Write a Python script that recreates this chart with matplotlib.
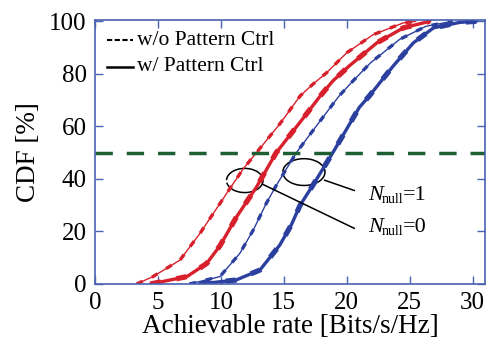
import numpy as np
import matplotlib
matplotlib.use("Agg")
import matplotlib.pyplot as plt
from matplotlib.patches import Arc
from matplotlib.transforms import offset_copy

# CDF curves: (rate [Bits/s/Hz], CDF [%])
# N_null = 0 (red)
red_wo_x = [3.3, 4.6, 6.75, 8.33, 9.92, 10.7, 11.77, 12.83, 14.68, 16.3, 17.3, 18.4, 20.0, 22.1, 24.5, 25.5]
red_wo_y = [0, 2.8, 9.1, 19.2, 30.6, 36.2, 43.8, 50, 60.9, 71.6, 76.0, 80.4, 88.0, 94.9, 99.4, 100]
red_w_x = [4.4, 7.3, 8.87, 9.92, 11.24, 12.83, 14.4, 16.8, 17.9, 18.9, 20.2, 22.4, 24.5, 26.6]
red_w_y = [0, 2.8, 7.8, 14.5, 25.5, 36.9, 50, 64.7, 71.6, 77.3, 83.0, 91.8, 97.5, 100]
# N_null = 1 (blue)
blue_wo_x = [7.5, 9.92, 11.5, 12.57, 13.6, 14.4, 16.0, 18.1, 19.4, 20.5, 21.9, 24.2, 26.3, 28.4]
blue_wo_y = [0, 2.8, 11.6, 20.5, 30.6, 37.5, 50, 63.4, 71.6, 77.3, 84.2, 93.1, 98.1, 100]
blue_w_x = [8.3, 11.2, 13.1, 14.15, 14.68, 15.6, 16.3, 17.3, 18.9, 21.0, 21.8, 23.7, 25.3, 26.9, 29.0, 30.3]
blue_w_y = [0, 1.5, 5.3, 11.6, 14.8, 22.5, 30.0, 37.5, 50, 67.2, 71.6, 83.0, 91.8, 97.5, 99.6, 100]

median_level = 50
legend_labels = ["w/o Pattern Ctrl", "w/ Pattern Ctrl"]

RED = "#d8202c"
BLUE = "#2b3f9e"
GREEN = "#1d5e33"
AXC = "#4a62b0"

plt.rcParams["font.family"] = ["Liberation Serif", "DejaVu Serif"]
plt.rcParams["mathtext.fontset"] = "stix"

fig = plt.figure(figsize=(4.95, 3.47), dpi=100)
ax = fig.add_axes([0.192, 0.1816, 0.788, 0.7608])

def bumpy(x, y, color, lw):
    # solid line with a dashed overlay, like the overlapping curves in the figure
    ax.plot(x, y, color=color, lw=lw, solid_capstyle="round")
    ax.plot(x, y, color=color, lw=lw + 1.4, ls=(0, (2.0, 3.0)))

bumpy(red_wo_x, red_wo_y, RED, 1.0)
bumpy(red_w_x, red_w_y, RED, 2.4)
bumpy(blue_wo_x, blue_wo_y, BLUE, 1.0)
bumpy(blue_w_x, blue_w_y, BLUE, 2.4)

ax.axhline(median_level, color=GREEN, lw=2.5, ls=(0, (5, 4)))

# legend drawn by hand (black samples)
ax.plot([0.031, 0.097], [0.924, 0.924], transform=ax.transAxes, color="black", lw=1.5, ls=(0, (2.5, 1.2)))
ax.plot([0.031, 0.097], [0.822, 0.822], transform=ax.transAxes, color="black", lw=1.8)
ax.text(0.108, 0.924, legend_labels[0], transform=ax.transAxes, fontsize=15.5, va="center", ha="left")
ax.text(0.108, 0.822, legend_labels[1], transform=ax.transAxes, fontsize=15.5, va="center", ha="left")

# grouping ellipses and labels
ax.add_patch(Arc((11.9, 39.4), 2.9, 9.2, theta1=210, theta2=175, color="black", lw=1.1))
ax.add_patch(Arc((16.6, 42.6), 3.35, 10.2, theta1=210, theta2=175, color="black", lw=1.1))
ax.plot([13.3, 20.6], [38.0, 21.2], color="black", lw=1.1)
ax.plot([18.25, 20.6], [39.5, 35.6], color="black", lw=1.1)

def nnull(x, y, val):
    ax.text(x, y, "N", fontsize=16, style="italic", va="baseline", ha="left")
    t1 = offset_copy(ax.transData, fig=fig, x=14, y=-3, units="dots")
    ax.text(x, y, "null", fontsize=10, va="baseline", ha="left", transform=t1)
    t2 = offset_copy(ax.transData, fig=fig, x=35, y=0, units="dots")
    ax.text(x, y, "=" + val, fontsize=16, va="baseline", ha="left", transform=t2)

nnull(21.67, 31.8, "1")
nnull(21.67, 19.8, "0")

ax.set_xlim(0, 31)
ax.set_ylim(0, 100.5)
ax.set_xticks([0, 5, 10, 15, 20, 25, 30])
ax.set_yticks([0, 20, 40, 60, 80, 100])
ax.tick_params(direction="in", length=6, width=1, color=AXC, top=True, right=True,
               labelsize=18, pad=6)
for s in ax.spines.values():
    s.set_color(AXC)
    s.set_linewidth(1.2)

ax.set_xlabel("Achievable rate [Bits/s/Hz]", fontsize=19.5, labelpad=0)
ax.set_ylabel("CDF [%]", fontsize=19.5, labelpad=6)

fig.savefig("out.png", dpi=100)
